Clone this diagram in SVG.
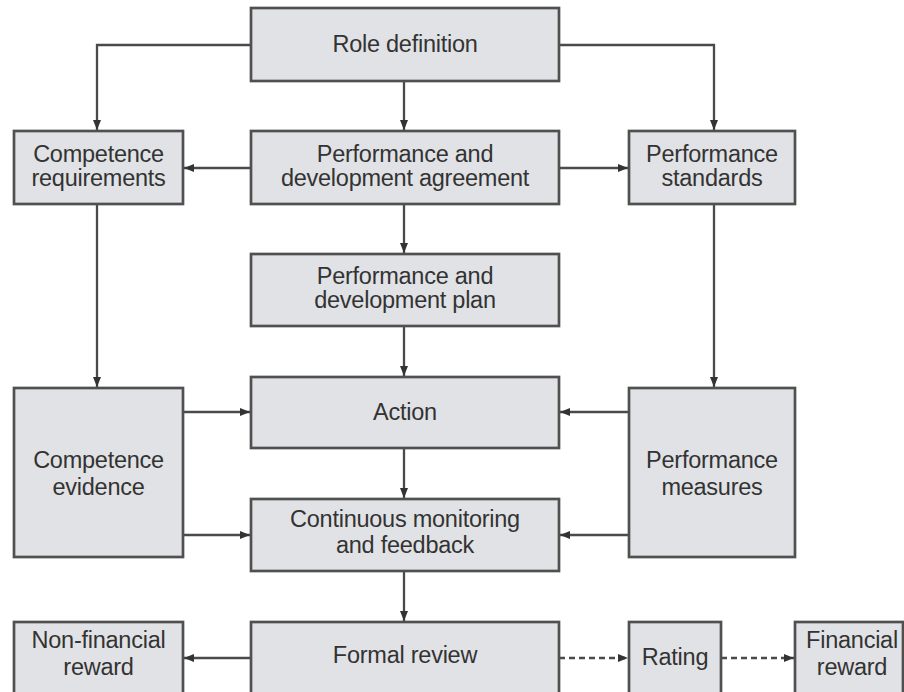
<svg xmlns="http://www.w3.org/2000/svg" width="904" height="692" viewBox="0 0 904 692">
<style>
.box{fill:#e1e2e5;stroke:#505050;stroke-width:2.7}
.t{font-family:"Liberation Sans",Arial,sans-serif;font-size:23.5px;fill:#333;text-anchor:middle;letter-spacing:-0.25px}
.c{fill:none;stroke:#4a4a4a;stroke-width:2.3}
.d{stroke-dasharray:6,4}
</style>
<defs>
<marker id="ah" viewBox="0 0 10 10" refX="10" refY="5" markerWidth="10" markerHeight="10" markerUnits="userSpaceOnUse" orient="auto">
<path d="M0,1 L10,5 L0,9 Z" fill="#333"/>
</marker>
</defs>
<rect width="904" height="692" fill="#fff"/>
<g id="connectors">
<path class="c" d="M251,45 H97 V130" marker-end="url(#ah)"/>
<path class="c" d="M559,45 H714 V130" marker-end="url(#ah)"/>
<path class="c" d="M404,81 V130" marker-end="url(#ah)"/>
<path class="c" d="M251,168 H184" marker-end="url(#ah)"/>
<path class="c" d="M559,168 H628" marker-end="url(#ah)"/>
<path class="c" d="M404,204 V253" marker-end="url(#ah)"/>
<path class="c" d="M404,326 V376" marker-end="url(#ah)"/>
<path class="c" d="M97,204 V387" marker-end="url(#ah)"/>
<path class="c" d="M714,204 V387" marker-end="url(#ah)"/>
<path class="c" d="M183,412 H250" marker-end="url(#ah)"/>
<path class="c" d="M183,535 H250" marker-end="url(#ah)"/>
<path class="c" d="M629,412 H560" marker-end="url(#ah)"/>
<path class="c" d="M629,535 H560" marker-end="url(#ah)"/>
<path class="c" d="M404,448 V498" marker-end="url(#ah)"/>
<path class="c" d="M404,571 V621" marker-end="url(#ah)"/>
<path class="c" d="M251,658 H184" marker-end="url(#ah)"/>
<path class="c d" d="M559,658 H628" marker-end="url(#ah)"/>
<path class="c d" d="M721,658 H794" marker-end="url(#ah)"/>
</g>
<g id="role-definition"><rect class="box" x="251" y="8" width="308" height="73"/><text class="t" x="405" y="52">Role definition</text></g>
<g id="competence-requirements"><rect class="box" x="14" y="131" width="169" height="73"/><text class="t" x="98.5" y="162">Competence</text><text class="t" x="98.5" y="186">requirements</text></g>
<g id="pd-agreement"><rect class="box" x="251" y="131" width="308" height="73"/><text class="t" x="405" y="162">Performance and</text><text class="t" x="405" y="186">development agreement</text></g>
<g id="performance-standards"><rect class="box" x="629" y="131" width="166" height="73"/><text class="t" x="712" y="162">Performance</text><text class="t" x="712" y="186">standards</text></g>
<g id="pd-plan"><rect class="box" x="251" y="254" width="308" height="72"/><text class="t" x="405" y="284">Performance and</text><text class="t" x="405" y="308">development plan</text></g>
<g id="action"><rect class="box" x="251" y="377" width="308" height="71"/><text class="t" x="405" y="420">Action</text></g>
<g id="competence-evidence"><rect class="box" x="14" y="388" width="169" height="169"/><text class="t" x="98.5" y="468">Competence</text><text class="t" x="98.5" y="495">evidence</text></g>
<g id="performance-measures"><rect class="box" x="629" y="388" width="166" height="169"/><text class="t" x="712" y="468">Performance</text><text class="t" x="712" y="495">measures</text></g>
<g id="continuous-monitoring"><rect class="box" x="251" y="499" width="308" height="72"/><text class="t" x="405" y="527">Continuous monitoring</text><text class="t" x="405" y="553">and feedback</text></g>
<g id="formal-review"><rect class="box" x="251" y="622" width="308" height="80"/><text class="t" x="405" y="663">Formal review</text></g>
<g id="non-financial-reward"><rect class="box" x="14" y="622" width="169" height="80"/><text class="t" x="98.5" y="648">Non-financial</text><text class="t" x="98.5" y="675">reward</text></g>
<g id="rating"><rect class="box" x="629" y="622" width="92" height="80"/><text class="t" x="675" y="665">Rating</text></g>
<g id="financial-reward"><rect class="box" x="795" y="622" width="108" height="80"/><text class="t" x="852" y="648">Financial</text><text class="t" x="852" y="675">reward</text></g>
</svg>
